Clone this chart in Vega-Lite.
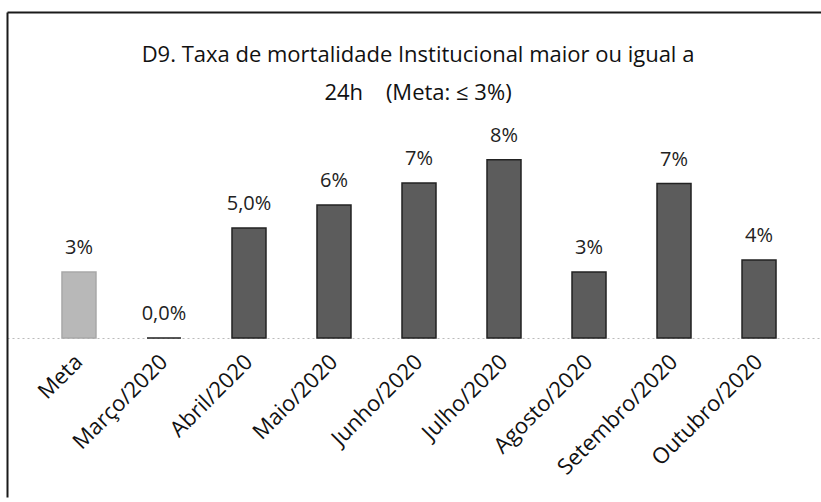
{
  "$schema": "https://vega.github.io/schema/vega-lite/v6.json",
  "autosize": {"type": "none"},
  "padding": {"left": 7, "top": 12, "right": 0, "bottom": 5},
  "width": 814,
  "height": 485,
  "background": "white",
  "config": {
    "view": {"stroke": null},
    "font": "Open Sans"
  },
  "title": {
    "text": ["D9. Taxa de mortalidade Institucional maior ou igual a", "24h\u00a0\u00a0\u00a0\u00a0(Meta:\u00a0≤\u00a03%)"],
    "anchor": "middle",
    "dx": 4,
    "dy": 119,
    "baseline": "bottom",
    "fontSize": 22,
    "fontWeight": "normal",
    "font": "Open Sans",
    "color": "#111",
    "lineHeight": 38
  },
  "data": {
    "values": [
      {"mes": "Meta", "valor": 3.0, "rotulo": "3%", "tipo": "meta"},
      {"mes": "Março/2020", "valor": 0.0, "rotulo": "0,0%", "tipo": "mes"},
      {"mes": "Abril/2020", "valor": 5.0, "rotulo": "5,0%", "tipo": "mes"},
      {"mes": "Maio/2020", "valor": 6.05, "rotulo": "6%", "tipo": "mes"},
      {"mes": "Junho/2020", "valor": 7.05, "rotulo": "7%", "tipo": "mes"},
      {"mes": "Julho/2020", "valor": 8.1, "rotulo": "8%", "tipo": "mes"},
      {"mes": "Agosto/2020", "valor": 3.0, "rotulo": "3%", "tipo": "mes"},
      {"mes": "Setembro/2020", "valor": 7.02, "rotulo": "7%", "tipo": "mes"},
      {"mes": "Outubro/2020", "valor": 3.55, "rotulo": "4%", "tipo": "mes"}
    ]
  },
  "encoding": {
    "x": {
      "field": "mes",
      "type": "nominal",
      "sort": null,
      "scale": {"range": [0, 814], "paddingInner": 0.6, "paddingOuter": 0.588, "align": 0.55}
    },
    "y": {
      "field": "valor",
      "type": "quantitative",
      "scale": {"domain": [-7.227, 14.818], "nice": false, "zero": false},
      "axis": {
        "title": null,
        "labels": false,
        "ticks": false,
        "grid": false,
        "domainColor": "#1a1a1a",
        "domainWidth": 2
      }
    }
  },
  "resolve": {"axis": {"x": "independent"}},
  "layer": [
    {
      "mark": {"type": "bar", "strokeWidth": 1.5},
      "encoding": {
        "x": {
          "field": "mes",
          "type": "nominal",
          "sort": null,
          "axis": {
            "title": null,
            "orient": "bottom",
            "offset": -159,
            "labelAngle": -45,
            "labelAlign": "right",
            "labelBaseline": "middle",
            "labelPadding": 20,
            "ticks": false,
            "labelFontSize": 22,
            "labelColor": "#111",
            "labelFont": "Open Sans",
            "domainColor": "#bbb",
            "domainDash": [2, 3],
            "domainWidth": 1
          }
        },
        "y2": {"datum": 0},
        "fill": {
          "field": "tipo",
          "type": "nominal",
          "scale": {"domain": ["meta", "mes"], "range": ["#b8b8b8", "#5c5c5c"]},
          "legend": null
        },
        "stroke": {
          "field": "tipo",
          "type": "nominal",
          "scale": {"domain": ["meta", "mes"], "range": ["#a8a8a8", "#222222"]},
          "legend": null
        }
      }
    },
    {
      "mark": {"type": "text", "baseline": "alphabetic", "dy": -18, "fontSize": 20, "color": "#222", "font": "Open Sans"},
      "encoding": {
        "x": {
          "field": "mes",
          "type": "nominal",
          "sort": null,
          "axis": {
            "title": null,
            "orient": "top",
            "labels": false,
            "ticks": false,
            "domainColor": "#1a1a1a",
            "domainWidth": 2
          }
        },
        "text": {"field": "rotulo"}
      }
    }
  ]
}
